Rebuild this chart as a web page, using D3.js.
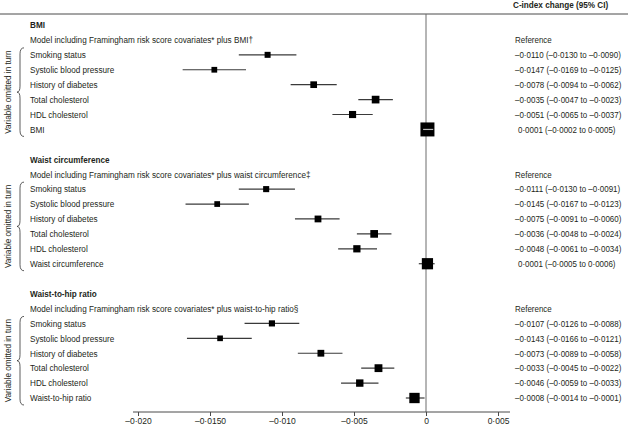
<!DOCTYPE html>
<html>
<head>
<meta charset="utf-8">
<script src="https://cdn.jsdelivr.net/npm/d3@7"></script>
<style>
  html, body { margin: 0; padding: 0; background: #fff; }
  svg text { font-family: "Liberation Sans", Arial, sans-serif; fill: #231f20; }
</style>
</head>
<body>
<div id="chart"></div>
<script>
// --- data ---
const sections = ["BMI", "Waist circumference", "Waist-to-hip ratio"];
const models = [
  "Model including Framingham risk score covariates* plus BMI\u2020",
  "Model including Framingham risk score covariates* plus waist circumference\u2021",
  "Model including Framingham risk score covariates* plus waist-to-hip ratio\u00a7"
];
const variables = [
  ["Smoking status", "Systolic blood pressure", "History of diabetes", "Total cholesterol", "HDL cholesterol", "BMI"],
  ["Smoking status", "Systolic blood pressure", "History of diabetes", "Total cholesterol", "HDL cholesterol", "Waist circumference"],
  ["Smoking status", "Systolic blood pressure", "History of diabetes", "Total cholesterol", "HDL cholesterol", "Waist-to-hip ratio"]
];
const estimate = [
  [-0.0110, -0.0147, -0.0078, -0.0035, -0.0051, 0.0001],
  [-0.0111, -0.0145, -0.0075, -0.0036, -0.0048, 0.0001],
  [-0.0107, -0.0143, -0.0073, -0.0033, -0.0046, -0.0008]
];
const lower = [
  [-0.0130, -0.0169, -0.0094, -0.0047, -0.0065, -0.0002],
  [-0.0130, -0.0167, -0.0091, -0.0048, -0.0061, -0.0005],
  [-0.0126, -0.0166, -0.0089, -0.0045, -0.0059, -0.0014]
];
const upper = [
  [-0.0090, -0.0125, -0.0062, -0.0023, -0.0037, 0.0005],
  [-0.0091, -0.0123, -0.0060, -0.0024, -0.0034, 0.0006],
  [-0.0088, -0.0121, -0.0058, -0.0022, -0.0033, -0.0001]
];
const tickValues = [-0.020, -0.015, -0.010, -0.005, 0, 0.005];
const tickLabels = ["\u20130\u00b7020", "\u20130\u00b70150", "\u20130\u00b7010", "\u20130\u00b7005", "0", "0\u00b7005"];
const headerLabel = "C-index change (95% CI)";
const sideLabel = "Variable omitted in turn";
const refLabel = "Reference";

// --- layout ---
const W = 628, H = 425;
const svg = d3.select("#chart").append("svg").attr("width", W).attr("height", H);

const x = d3.scaleLinear().domain([-0.020, 0.005]).range([138, 498]);
const y = d3.scaleLinear().domain([0, 25]).range([25, 398]);
// marker size from precision of the estimate
const size = d3.scalePow().exponent(-0.5).domain([0.0007, 0.004]).range([14, 6]);

const fmt = v => (v < 0 ? "\u2013" : "") + Math.abs(v).toFixed(4).replace(".", "\u00b7");
const labelX = 30, valX = 515;
const axisY = 412;
const FS = "9.5px";

// condensed text (the original face is narrow)
function txt(g, tx, ty, str, sx, bold) {
  return g.append("text")
    .attr("transform", `translate(${tx},${ty}) scale(${sx},1)`)
    .attr("dy", "0.35em")
    .style("font-size", FS)
    .style("font-weight", bold ? "bold" : null)
    .text(str);
}

// top rule
svg.append("line").attr("x1", 0).attr("x2", W).attr("y1", 14).attr("y2", 14)
  .attr("stroke", "#4a4a4a").attr("stroke-width", 1);

txt(svg, 513, 5, headerLabel, 0.86, true);

// zero line
svg.append("line").attr("x1", x(0)).attr("x2", x(0)).attr("y1", 14).attr("y2", axisY)
  .attr("stroke", "#6d6d6d").attr("stroke-width", 1);

sections.forEach((sec, s) => {
  const base = 9 * s;
  const g = svg.append("g");

  txt(g, labelX, y(base), sec, 0.86, true);
  txt(g, labelX, y(base + 1), models[s], 0.86, false);
  txt(g, valX, y(base + 1), refLabel, 0.84, false);

  const rows = variables[s].map((v, i) => ({
    name: v, est: estimate[s][i], lo: lower[s][i], hi: upper[s][i], line: base + 2 + i
  }));

  rows.forEach(d => {
    txt(g, labelX, y(d.line), d.name, 0.86, false);
    txt(g, d.est < 0 ? valX : valX + 3, y(d.line),
      `${fmt(d.est)} (${fmt(d.lo)} to ${fmt(d.hi)})`, 0.84, false);
  });

  // CI lines
  g.selectAll(".ci").data(rows).enter().append("line")
    .attr("x1", d => x(d.lo)).attr("x2", d => x(d.hi))
    .attr("y1", d => y(d.line)).attr("y2", d => y(d.line))
    .attr("stroke", "#3a3a3a").attr("stroke-width", 1.2);

  // squares
  g.selectAll(".sq").data(rows).enter().append("rect")
    .attr("x", d => x(d.est) - size(d.hi - d.lo) / 2)
    .attr("y", d => y(d.line) - size(d.hi - d.lo) / 2)
    .attr("width", d => size(d.hi - d.lo))
    .attr("height", d => size(d.hi - d.lo))
    .attr("fill", "#000");

  // CI inside the square shown light
  g.selectAll(".ciw").data(rows.filter(d => x(d.hi) - x(d.lo) < size(d.hi - d.lo))).enter().append("line")
    .attr("x1", d => x(d.lo)).attr("x2", d => x(d.hi))
    .attr("y1", d => y(d.line)).attr("y2", d => y(d.line))
    .attr("stroke", "#bbb").attr("stroke-width", 1.2);

  // brace + side label
  const top = y(base + 2) - 7, bot = y(base + 7) + 7, mid = (top + bot) / 2;
  const bx = 24, tip = 17;
  g.append("path")
    .attr("d", `M${bx},${top} Q${bx - 4},${top} ${bx - 4},${top + 6} L${bx - 4},${mid - 6} Q${bx - 4},${mid} ${tip},${mid}` +
               ` Q${bx - 4},${mid} ${bx - 4},${mid + 6} L${bx - 4},${bot - 6} Q${bx - 4},${bot} ${bx},${bot}`)
    .attr("fill", "none").attr("stroke", "#333").attr("stroke-width", 0.8);
  g.append("text").attr("transform", `translate(11,${mid}) rotate(-90) scale(0.86,1)`)
    .attr("text-anchor", "middle").style("font-size", FS).text(sideLabel);
});

// x axis
svg.append("line").attr("x1", 133).attr("x2", 510).attr("y1", axisY).attr("y2", axisY)
  .attr("stroke", "#4a4a4a").attr("stroke-width", 1);
const axis = svg.append("g").attr("transform", `translate(0,${axisY})`)
  .call(d3.axisBottom(x).tickValues(tickValues).tickSize(4).tickPadding(2)
    .tickFormat((d, i) => tickLabels[i]));
axis.select(".domain").remove();
axis.selectAll("line").attr("stroke", "#4a4a4a");
axis.selectAll("text").style("font-size", "8.5px").attr("fill", "#231f20")
  .style("font-family", '"Liberation Sans", Arial, sans-serif');
</script>
</body>
</html>
